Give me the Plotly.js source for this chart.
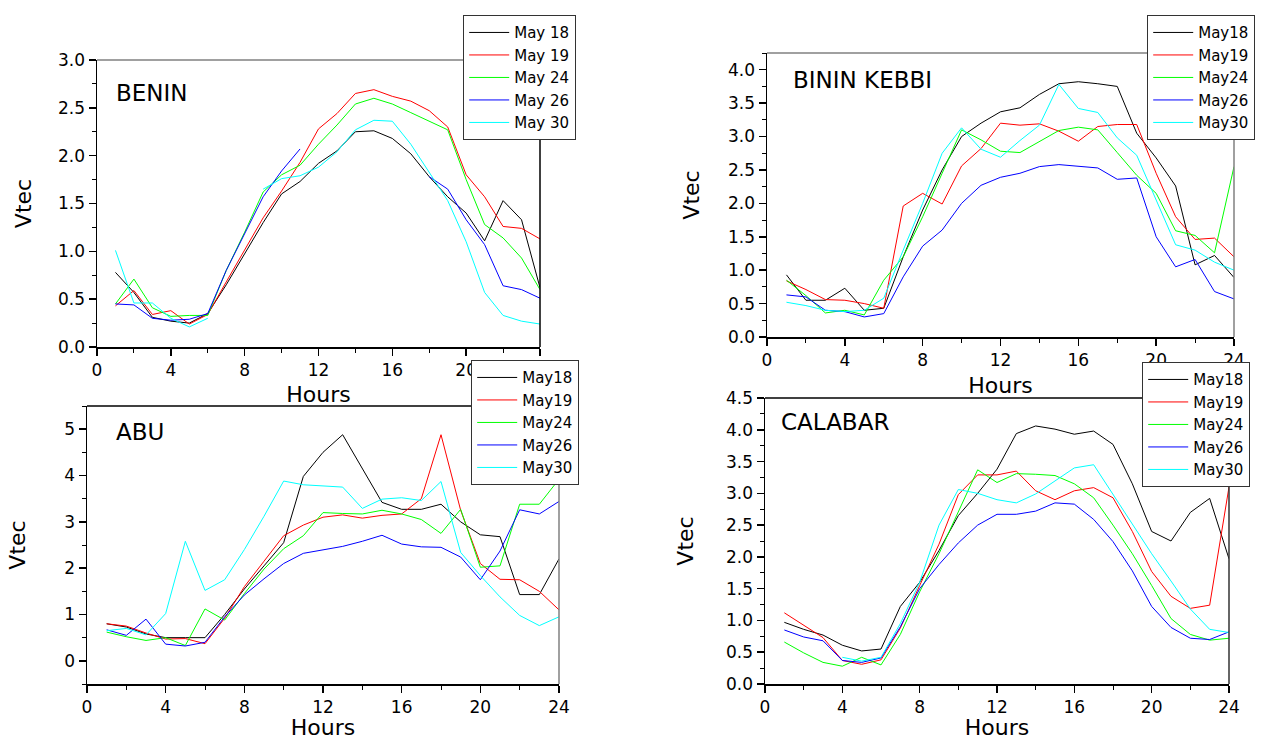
<!DOCTYPE html>
<html>
<head>
<meta charset="utf-8">
<script src="https://cdn.plot.ly/plotly-3.0.1.min.js"></script>
<style>html,body{margin:0;padding:0;background:#fff;}</style>
</head>
<body>
<div id="chart" style="width:1263px;height:740px;"></div>
<script>
// ---------- data ----------
const hours = [1,2,3,4,5,6,7,8,9,10,11,12,13,14,15,16,17,18,19,20,21,22,23,24];

const seriesColors = ['#000000', '#ff0000', '#00ff00', '#0000ff', '#00ffff'];
const beninNames = ['May 18', 'May 19', 'May 24', 'May 26', 'May 30'];
const otherNames = ['May18', 'May19', 'May24', 'May26', 'May30'];
const panelLabels = ['BENIN', 'BININ KEBBI', 'ABU', 'CALABAR'];

// BENIN
const beninMay18 = [0.78,0.57,0.31,0.27,0.25,0.35,0.65,0.97,1.30,1.60,1.73,1.92,2.05,2.25,2.26,2.18,2.02,1.78,1.57,1.40,1.11,1.53,1.33,0.62];
const beninMay19 = [0.43,0.59,0.34,0.38,0.24,0.34,0.68,1.02,1.35,1.63,1.93,2.28,2.44,2.65,2.69,2.62,2.57,2.47,2.30,1.80,1.57,1.26,1.24,1.13];
const beninMay24 = [0.45,0.71,0.41,0.32,0.33,0.33,0.80,1.20,1.62,1.80,1.90,2.12,2.32,2.54,2.60,2.54,2.45,2.36,2.27,1.75,1.28,1.14,0.93,0.60];
const beninMay26 = [0.45,0.44,0.30,0.28,0.29,0.35,0.80,1.18,1.57,1.84,2.07,null,null,null,null,null,null,1.78,1.65,1.33,1.07,0.64,0.60,0.51];
const beninMay30 = [1.01,0.46,0.46,0.30,0.21,0.30,null,null,1.65,1.76,1.79,1.88,2.04,2.27,2.37,2.36,2.12,1.82,1.53,1.10,0.57,0.33,0.27,0.24];

// BININ KEBBI
const kebbiMay18 = [0.93,0.55,0.55,0.73,0.40,0.43,1.20,1.90,2.50,3.00,3.20,3.37,3.43,3.63,3.79,3.82,3.79,3.75,3.05,2.68,2.26,1.08,1.22,0.89];
const kebbiMay19 = [0.84,0.71,0.56,0.55,0.50,0.43,1.96,2.15,1.99,2.56,2.82,3.20,3.17,3.19,3.08,2.93,3.15,3.18,3.18,2.45,1.80,1.46,1.48,1.20];
const kebbiMay24 = [0.85,0.62,0.36,0.40,0.33,0.85,1.20,1.80,2.45,3.10,2.95,2.78,2.76,2.92,3.09,3.14,3.10,2.76,2.42,2.15,1.59,1.52,1.26,2.55];
const kebbiMay26 = [0.63,0.60,0.40,0.38,0.30,0.35,0.90,1.36,1.60,2.00,2.27,2.39,2.45,2.55,2.58,2.56,2.53,2.36,2.38,1.50,1.05,1.16,0.68,0.57];
const kebbiMay30 = [0.52,0.47,0.40,0.38,0.40,0.58,1.30,2.00,2.75,3.13,2.81,2.69,2.94,3.17,3.78,3.42,3.36,2.98,2.72,2.05,1.38,1.30,1.12,1.00];

// ABU
const abuMay18 = [0.80,0.73,0.58,0.50,0.50,0.50,1.00,1.55,2.05,2.55,3.98,4.50,4.88,4.15,3.42,3.27,3.27,3.38,3.00,2.72,2.68,1.43,1.43,2.20];
const abuMay19 = [0.80,0.75,0.60,0.47,0.48,0.37,0.92,1.60,2.15,2.70,2.93,3.10,3.15,3.08,3.14,3.17,3.50,4.88,3.25,2.10,1.76,1.75,1.50,1.10];
const abuMay24 = [0.62,0.52,0.44,0.50,0.33,1.12,0.88,1.45,1.98,2.42,2.70,3.20,3.18,3.17,3.25,3.17,3.05,2.75,3.27,2.02,2.05,3.38,3.38,3.92];
const abuMay26 = [0.67,0.55,0.90,0.36,0.32,0.40,0.95,1.42,1.77,2.10,2.32,2.40,2.47,2.58,2.71,2.52,2.46,2.45,2.24,1.75,2.37,3.26,3.17,3.44];
const abuMay30 = [0.65,0.70,0.56,1.02,2.58,1.52,1.75,2.40,3.12,3.88,3.80,3.77,3.75,3.29,3.49,3.52,3.46,3.87,2.34,1.84,1.38,0.98,0.76,0.95];

// CALABAR
const calMay18 = [0.97,0.86,0.77,0.61,0.52,0.55,1.22,1.60,2.10,2.65,3.00,3.38,3.94,4.06,4.01,3.93,3.98,3.77,3.15,2.40,2.25,2.70,2.92,1.97];
const calMay19 = [1.12,0.93,0.73,0.37,0.31,0.38,0.88,1.55,2.20,2.98,3.29,3.29,3.35,3.04,2.90,3.04,3.09,2.93,2.40,1.77,1.38,1.19,1.24,3.10];
const calMay24 = [0.66,0.49,0.34,0.28,0.42,0.30,0.78,1.45,2.05,2.70,3.37,3.17,3.31,3.30,3.28,3.15,2.93,2.50,2.05,1.55,1.03,0.78,0.69,0.72];
const calMay26 = [0.85,0.74,0.68,0.37,0.34,0.41,0.90,1.50,1.88,2.22,2.50,2.67,2.67,2.72,2.85,2.83,2.59,2.24,1.78,1.22,0.89,0.72,0.70,0.82];
const calMay30 = [null,null,null,0.42,0.36,0.42,0.95,1.60,2.50,3.06,3.00,2.90,2.85,2.99,3.20,3.40,3.45,2.98,2.52,2.05,1.62,1.18,0.86,0.81];

const xTickVals = [0,4,8,12,16,20,24];
const xTitle = 'Hours';
const yTitle = 'Vtec';

// ---------- build ----------
const FONT = 'DejaVu Sans, Liberation Sans, Arial, sans-serif';
const W = 1263, H = 740;
const panels = [
  {data:[beninMay18,beninMay19,beninMay24,beninMay26,beninMay30], names:beninNames, xa:'x', ya:'y', leg:'legend'},
  {data:[kebbiMay18,kebbiMay19,kebbiMay24,kebbiMay26,kebbiMay30], names:otherNames, xa:'x2', ya:'y2', leg:'legend2'},
  {data:[abuMay18,abuMay19,abuMay24,abuMay26,abuMay30], names:otherNames, xa:'x3', ya:'y3', leg:'legend3'},
  {data:[calMay18,calMay19,calMay24,calMay26,calMay30], names:otherNames, xa:'x4', ya:'y4', leg:'legend4'}
];

const traces = [];
panels.forEach(p => {
  p.data.forEach((vals, i) => {
    traces.push({
      x: hours, y: vals, type: 'scatter', mode: 'lines',
      name: p.names[i], xaxis: p.xa, yaxis: p.ya, legend: p.leg,
      line: {color: seriesColors[i], width: 1},
      connectgaps: false, hoverinfo: 'x+y'
    });
  });
});

function px2x(v){ return v / W; }
function py2y(v){ return 1 - v / H; }

function xAxis(l, r, anchor, standoff){
  return {
    domain:[px2x(l), px2x(r)], anchor: anchor, range:[0,24],
    tickmode:'array', tickvals: xTickVals,
    ticks:'outside', ticklen:7, tickwidth:1.5, tickcolor:'#000',
    showline:true, linecolor:'#000', linewidth:1.5, mirror:false,
    showgrid:false, zeroline:false, automargin:false,
    minor:{dtick:2, tick0:0, ticks:'outside', ticklen:4, tickwidth:1, tickcolor:'#000', showgrid:false},
    tickfont:{family:FONT, size:17, color:'#000'},
    title:{text:xTitle, font:{family:FONT, size:22, color:'#000'}, standoff: standoff}
  };
}
function yAxis(b, t, anchor, range, dtick, minorDtick, fmt, standoff){
  return {
    domain:[py2y(b), py2y(t)], anchor: anchor, range: range,
    tick0:0, dtick:dtick, tickformat: fmt,
    ticks:'outside', ticklen:7, tickwidth:1.5, tickcolor:'#000',
    showline:true, linecolor:'#000', linewidth:1.5, mirror:false,
    showgrid:false, zeroline:false, automargin:false,
    minor:{dtick:minorDtick, tick0:0, ticks:'outside', ticklen:4, tickwidth:1, tickcolor:'#000', showgrid:false},
    tickfont:{family:FONT, size:17, color:'#000'},
    title:{text:yTitle, font:{family:FONT, size:22, color:'#000'}, standoff: standoff}
  };
}

function frame(xref, yref, topColor, rightColor){
  return [
    {type:'line', xref:xref+' domain', yref:yref+' domain', x0:0, x1:1, y0:1, y1:1, line:{color:topColor, width:1.5}, layer:'above'},
    {type:'line', xref:xref+' domain', yref:yref+' domain', x0:1, x1:1, y0:0, y1:1, line:{color:rightColor, width:1.5}, layer:'above'}
  ];
}

function legendBox(xpx, ypx){
  return {
    x: px2x(xpx), y: py2y(ypx), xanchor:'left', yanchor:'top', xref:'paper', yref:'paper',
    bgcolor:'#ffffff', bordercolor:'#333333', borderwidth:1.2,
    font:{family:FONT, size:15, color:'#000'}, itemwidth:40, tracegroupgap:0
  };
}

function label(text, xpx, ypx){
  return {text:text, x:px2x(xpx), y:py2y(ypx), xref:'paper', yref:'paper', xanchor:'left', yanchor:'middle',
          showarrow:false, font:{family:FONT, size:23, color:'#000'}};
}

const layout = {
  width: W, height: H,
  margin:{l:0, r:0, t:0, b:0, pad:0},
  paper_bgcolor:'#fff', plot_bgcolor:'#fff',
  font:{family:FONT, color:'#000'},
  showlegend:true,
  xaxis: xAxis(97, 540, 'y', 7),
  yaxis: yAxis(347, 60, 'x', [0,3], 0.5, 0.25, '.1f', 20),
  xaxis2: xAxis(767, 1234, 'y2', 8),
  yaxis2: yAxis(337, 53, 'x2', [0,4.25], 0.5, 0.25, '.1f', 22),
  xaxis3: xAxis(87, 559, 'y3', 8),
  yaxis3: yAxis(684, 406, 'x3', [-0.5,5.5], 1, 0.5, 'd', 32),
  xaxis4: xAxis(765, 1229, 'y4', 7),
  yaxis4: yAxis(684, 398, 'x4', [0,4.5], 0.5, 0.25, '.1f', 26),
  legend: legendBox(463, 15),
  legend2: legendBox(1147, 15),
  legend3: legendBox(471, 360),
  legend4: legendBox(1142, 362),
  annotations:[
    label(panelLabels[0], 114, 93),
    label(panelLabels[1], 791, 80),
    label(panelLabels[2], 114, 432),
    label(panelLabels[3], 779, 422)
  ],
  shapes: [].concat(
    frame('x','y','#808080','#000000'),
    frame('x2','y2','#808080','#808080'),
    frame('x3','y3','#000000','#808080'),
    frame('x4','y4','#000000','#333333')
  )
};

Plotly.newPlot('chart', traces, layout, {displayModeBar:false, staticPlot:true});
</script>
</body>
</html>
